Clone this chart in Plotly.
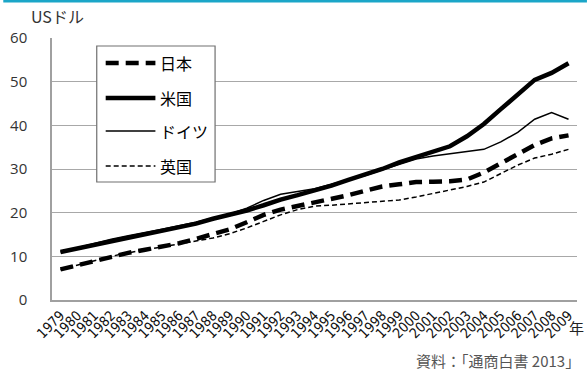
import plotly.graph_objects as go

years = [str(y) for y in range(1979, 2010)]
japan = [7.0, 8.0, 9.0, 10.0, 10.8, 11.5, 12.2, 13.0, 14.0, 15.0, 16.2, 17.8, 19.5, 20.7, 21.5, 22.3,
         23.0, 24.0, 25.0, 26.0, 26.5, 27.0, 27.1, 27.2, 27.6, 29.2, 31.3, 33.3, 35.5, 37.0, 37.7]
usa = [11.0, 11.8, 12.6, 13.3, 14.2, 15.0, 15.8, 16.7, 17.5, 18.6, 19.5, 20.5, 21.7, 23.0, 24.0, 25.0,
       26.2, 27.5, 28.7, 30.0, 31.5, 32.8, 33.9, 35.2, 37.5, 40.3, 43.7, 47.0, 50.4, 52.0, 54.2]
germany = [11.0, 12.0, 13.0, 13.9, 14.7, 15.4, 16.2, 17.0, 17.8, 18.8, 19.7, 21.0, 22.8, 24.2, 24.8, 25.5,
           26.5, 27.5, 28.5, 29.8, 31.0, 32.3, 33.0, 33.5, 34.0, 34.5, 36.2, 38.4, 41.4, 42.9, 41.4]
uk = [7.0, 8.0, 9.0, 10.0, 10.8, 11.5, 12.2, 12.8, 13.5, 14.2, 15.2, 16.5, 18.0, 19.5, 20.7, 21.5,
      21.7, 22.0, 22.2, 22.5, 22.9, 23.6, 24.4, 25.2, 26.0, 27.0, 29.0, 30.9, 32.5, 33.4, 34.5]
names = ["日本", "米国", "ドイツ", "英国"]
y_ticks = [0, 10, 20, 30, 40, 50, 60]

styles = [
    dict(width=4.5, dash="13px,7px"),
    dict(width=4.5, dash="solid"),
    dict(width=1.5, dash="solid"),
    dict(width=1.5, dash="5px,3px"),
]
series = [japan, usa, germany, uk]

fig = go.Figure()
# draw order: UK, Germany, Japan, US (US on top)
for idx in [3, 2, 0, 1]:
    fig.add_trace(go.Scatter(
        x=years, y=series[idx], mode="lines", name=names[idx],
        line=dict(color="black", **styles[idx]), showlegend=False,
    ))

font = "Noto Sans CJK JP, Noto Sans, sans-serif"

L, R, T, B = 49, 10, 38, 73
W, H = 587, 373
pw, ph = W - L - R, H - T - B

def px(x):
    return (x - L) / pw

def py(y):
    return (H - B - y) / ph

shapes = []
annotations = []
# manual legend box
shapes.append(dict(type="rect", xref="paper", yref="paper",
                   x0=px(94), x1=px(213), y0=py(182), y1=py(46),
                   line=dict(color="#707070", width=1.2), fillcolor="white", layer="above"))
ys = [63, 98, 131, 166]
for i in range(4):
    shapes.append(dict(type="line", xref="paper", yref="paper",
                       x0=px(103), x1=px(153), y0=py(ys[i]), y1=py(ys[i]),
                       line=dict(color="black", **styles[i]), layer="above"))
    annotations.append(dict(text=names[i], xref="paper", yref="paper",
                            x=px(156), y=py(ys[i]), xanchor="left", yanchor="middle",
                            showarrow=False, font=dict(size=16, color="black", family=font)))

# top cyan bar
shapes.append(dict(type="line", xref="paper", yref="paper",
                   x0=px(0), x1=px(W), y0=py(1), y1=py(1),
                   line=dict(color="#1ba6c8", width=3)))

annotations.append(dict(text="USドル", xref="paper", yref="paper", x=px(26), y=py(16),
                        xanchor="left", yanchor="middle", showarrow=False,
                        font=dict(size=16, color="#333", family=font)))
annotations.append(dict(text="年", xref="paper", yref="paper", x=px(586), y=py(327),
                        xanchor="right", yanchor="middle", showarrow=False,
                        font=dict(size=15, color="#222", family=font)))
annotations.append(dict(text="資料：「通商白書 2013」", xref="paper", yref="paper", x=px(582), y=py(360),
                        xanchor="right", yanchor="middle", showarrow=False,
                        font=dict(size=15, color="#555", family="Noto Sans CJK JP, sans-serif")))

fig.update_layout(
    width=W, height=H,
    margin=dict(l=L, r=R, t=T, b=B),
    paper_bgcolor="white", plot_bgcolor="white",
    shapes=shapes, annotations=annotations,
    showlegend=False,
    xaxis=dict(type="category", range=[-0.5, len(years) - 0.5], tickangle=-45,
               tickmode="array", tickvals=years, ticktext=years,
               showgrid=False, showline=True, linecolor="#a0a0a0", linewidth=1.5,
               ticks="", tickfont=dict(size=14, family="Liberation Sans Narrow, DejaVu Sans Condensed, sans-serif", color="#111"),
               fixedrange=True),
    yaxis=dict(range=[0, 60], tickvals=y_ticks, showgrid=True, gridcolor="#a8a8a8", gridwidth=1,
               showline=True, linecolor="#a0a0a0", linewidth=1.5, zeroline=False, ticks="",
               ticklabelstandoff=20,
               tickfont=dict(size=15, family="Open Sans, sans-serif", color="#333"), fixedrange=True),
)

fig.write_html("out.html")
